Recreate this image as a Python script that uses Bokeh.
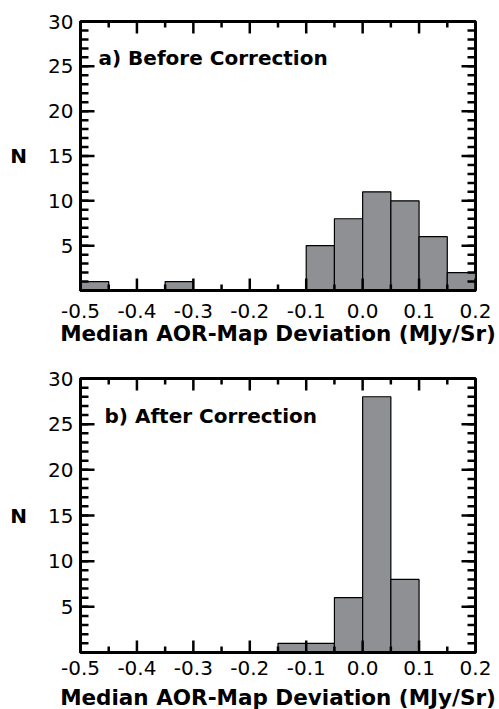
from bokeh.plotting import figure
from bokeh.layouts import column
from bokeh.models import (LinearAxis, FixedTicker, PrintfTickFormatter, Range1d,
                          Label, ColumnDataSource)
from bokeh.embed import file_html
from bokeh.resources import INLINE

# ---- data ----
bin_left = [-0.50, -0.45, -0.40, -0.35, -0.30, -0.25, -0.20, -0.15, -0.10, -0.05, 0.00, 0.05, 0.10, 0.15]
bin_right = [-0.45, -0.40, -0.35, -0.30, -0.25, -0.20, -0.15, -0.10, -0.05, 0.00, 0.05, 0.10, 0.15, 0.20]
counts_before = [1, 0, 0, 1, 0, 0, 0, 0, 5, 8, 11, 10, 6, 2]
counts_after = [0, 0, 0, 0, 0, 0, 0, 1, 1, 6, 28, 8, 0, 0]
x_major_ticks = [-0.5, -0.4, -0.3, -0.2, -0.1, 0.0, 0.1, 0.2]
x_minor_ticks = [-0.45, -0.35, -0.25, -0.15, -0.05, 0.05, 0.15]
y_major_ticks = [5, 10, 15, 20, 25, 30]
y_minor_ticks = list(range(1, 30))
panel_titles = ["a) Before Correction", "b) After Correction"]
x_title = "Median AOR-Map Deviation (MJy/Sr)"
y_title = "N"

X_MIN, X_MAX = -0.5, 0.2
Y_MIN, Y_MAX = 0, 30

FONT = "DejaVu Sans"
BAR = "#8f9093"


def style_axis(ax, ticks, standoff):
    ax.ticker = FixedTicker(ticks=ticks)
    ax.axis_line_width = 3
    ax.axis_line_color = "black"
    ax.major_tick_in = 0
    ax.major_tick_out = 0
    ax.minor_tick_in = 0
    ax.minor_tick_out = 0
    ax.major_tick_line_color = None
    ax.minor_tick_line_color = None
    ax.major_label_text_font = FONT
    ax.major_label_text_font_size = "20px"
    ax.major_label_text_color = "black"
    ax.major_label_standoff = standoff


def make_panel(counts, title, fw, fh, bl, br, bt, bb, lab_dx, lab_dy,
               xstand, title_stand):
    p = figure(frame_width=fw, frame_height=fh, output_backend="svg",
               toolbar_location=None, x_axis_location=None, y_axis_location=None,
               x_range=Range1d(X_MIN, X_MAX), y_range=Range1d(Y_MIN, Y_MAX),
               min_border_left=bl, min_border_right=br,
               min_border_top=bt, min_border_bottom=bb)
    p.xgrid.visible = False
    p.ygrid.visible = False
    p.outline_line_color = "black"
    p.outline_line_width = 3
    p.background_fill_color = "white"
    p.border_fill_color = "white"

    left = [l for l, c in zip(bin_left, counts) if c > 0]
    right = [r for r, c in zip(bin_right, counts) if c > 0]
    top = [c for c in counts if c > 0]
    src = ColumnDataSource(dict(left=left, right=right, top=top, bottom=[0] * len(top)))
    p.quad(left="left", right="right", top="top", bottom="bottom", source=src,
           fill_color=BAR, line_color="black", line_width=1.2)

    # inward ticks on all four sides (lengths given in pixels, converted to data units)
    ux = (X_MAX - X_MIN) / fw
    uy = (Y_MAX - Y_MIN) / fh

    def vt(xs, y0, length_px, sign):
        p.segment(x0=xs, y0=[y0] * len(xs), x1=xs,
                  y1=[y0 + sign * length_px * uy] * len(xs),
                  line_color="black", line_width=2.5, line_cap="butt")

    def ht(ys, x0, length_px, sign):
        p.segment(x0=[x0] * len(ys), y0=ys, x1=[x0 + sign * length_px * ux] * len(ys),
                  y1=ys, line_color="black", line_width=2.5, line_cap="butt")

    vt(x_major_ticks, Y_MIN, 12, 1)
    vt(x_minor_ticks, Y_MIN, 6, 1)
    vt(x_major_ticks, Y_MAX, 12, -1)
    vt(x_minor_ticks, Y_MAX, 6, -1)
    ht(y_major_ticks, X_MIN, 14, 1)
    ht(y_minor_ticks, X_MIN, 8, 1)
    ht(y_major_ticks, X_MAX, 14, -1)
    ht(y_minor_ticks, X_MAX, 8, -1)

    xb = LinearAxis()
    style_axis(xb, x_major_ticks, xstand)
    xb.formatter = PrintfTickFormatter(format="%.1f")
    xb.axis_label = x_title
    xb.axis_label_text_font = FONT
    xb.axis_label_text_font_style = "bold"
    xb.axis_label_text_font_size = "21.5px"
    xb.axis_label_text_color = "black"
    xb.axis_label_standoff = title_stand
    p.add_layout(xb, "below")

    yl = LinearAxis()
    style_axis(yl, y_major_ticks, 7)
    yl.axis_label = y_title
    yl.axis_label_orientation = "horizontal"
    yl.axis_label_text_font = FONT
    yl.axis_label_text_font_style = "bold"
    yl.axis_label_text_font_size = "20px"
    yl.axis_label_text_color = "black"
    yl.axis_label_standoff = 18
    p.add_layout(yl, "left")

    p.add_layout(Label(x=X_MIN, y=Y_MAX, x_offset=lab_dx, y_offset=-lab_dy, text=title,
                       text_font=FONT, text_font_style="bold", text_font_size="20px",
                       text_baseline="middle", text_align="left", text_color="black"))
    return p


p1 = make_panel(counts_before, panel_titles[0], 395, 269, 78, 26, 21, 59, 18, 36, 13, 0)
p2 = make_panel(counts_after, panel_titles[1], 395, 274, 80, 24, 29, 56, 24, 37, 8, 7)

layout = column(p1, p2, spacing=0)
open("out.html", "w").write(file_html(layout, INLINE))
